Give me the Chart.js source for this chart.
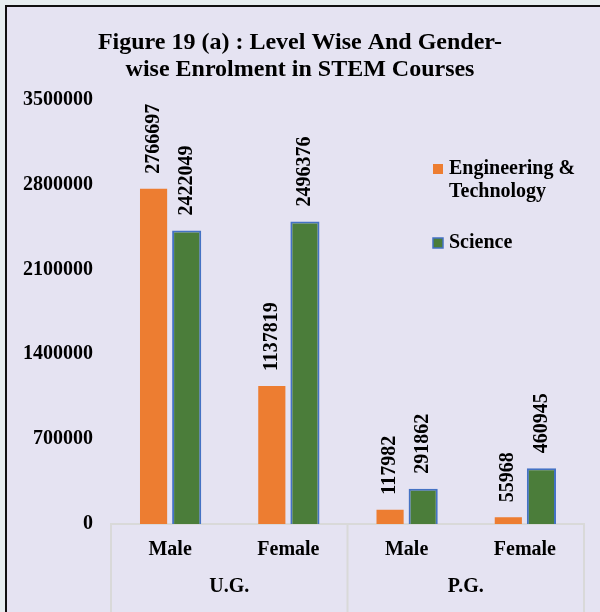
<!DOCTYPE html>
<html>
<head>
<meta charset="utf-8">
<script src="https://cdn.jsdelivr.net/npm/chart.js@4"></script>
<style>
  html, body { margin: 0; padding: 0; background: #E7EEF0; }
  #frame {
    position: absolute; left: 5px; top: 5px; width: 700px; height: 700px;
    border-left: 2px solid #111; border-top: 2px solid #111;
    background: #E5E3F2;
  }
  #wrap { position: absolute; left: 0; top: 0; width: 600px; height: 612px; }
</style>
</head>
<body>
<div id="frame"></div>
<div id="wrap"><canvas id="stemChart" width="600" height="612"></canvas></div>
<script>
// Data for the chart
const categories = ["Male", "Female", "Male", "Female"];
const groups = ["U.G.", "P.G."];
const engTech = [2766697, 1137819, 117982, 55968];
const science = [2422049, 2496376, 291862, 460945];
const yTicks = [0, 700000, 1400000, 2100000, 2800000, 3500000];

const FONT = "'Liberation Serif', 'Times New Roman', serif";
const ORANGE = "#ED7D31";
const GREEN = "#4B7D3A";
const BLUE = "#4472C4";
const AXIS_GREY = "#D9D9D9";

// rotated value labels above each bar
const valueLabels = {
  id: "valueLabels",
  afterDatasetsDraw(chart) {
    const ctx = chart.ctx;
    ctx.save();
    ctx.font = "bold 20px " + FONT;
    ctx.fillStyle = "#000";
    chart.data.datasets.forEach((ds, i) => {
      chart.getDatasetMeta(i).data.forEach((bar, j) => {
        ctx.save();
        ctx.translate(bar.x, bar.y - 15);
        ctx.rotate(-Math.PI / 2);
        ctx.textAlign = "left";
        ctx.textBaseline = "middle";
        ctx.fillText(String(ds.data[j]), 0, 0);
        ctx.restore();
      });
    });
    ctx.restore();
  }
};

// group separators under the x axis
const groupLines = {
  id: "groupLines",
  afterDraw(chart) {
    const x = chart.scales.x;
    const ctx = chart.ctx;
    const mid = (x.getPixelForValue(1) + x.getPixelForValue(2)) / 2;
    ctx.save();
    ctx.strokeStyle = AXIS_GREY;
    ctx.lineWidth = 2;
    [x.left, mid, x.right].forEach(px => {
      ctx.beginPath();
      ctx.moveTo(px, x.top);
      ctx.lineTo(px, chart.height);
      ctx.stroke();
    });
    ctx.restore();
  }
};

// legend on the right with a wrapped label
const sideLegend = {
  id: "sideLegend",
  afterDraw(chart) {
    const ctx = chart.ctx;
    const items = [
      { lines: ["Engineering &", "Technology"], fill: ORANGE, stroke: null, y: 169 },
      { lines: ["Science"], fill: GREEN, stroke: BLUE, y: 243 }
    ];
    ctx.save();
    ctx.font = "bold 20px " + FONT;
    ctx.textBaseline = "middle";
    ctx.textAlign = "left";
    items.forEach(it => {
      ctx.fillStyle = it.fill;
      ctx.fillRect(433, it.y - 5, 10, 10);
      if (it.stroke) {
        ctx.strokeStyle = it.stroke;
        ctx.lineWidth = 1.5;
        ctx.strokeRect(433, it.y - 5, 10, 10);
      }
      ctx.fillStyle = "#000";
      it.lines.forEach((t, k) => ctx.fillText(t, 449, it.y + k * 23));
    });
    ctx.restore();
  }
};

const config = {
  type: "bar",
  data: {
    labels: categories,
    datasets: [
      {
        label: "Engineering & Technology",
        data: engTech,
        backgroundColor: ORANGE,
        borderWidth: 0,
        categoryPercentage: 0.56,
        barPercentage: 0.82
      },
      {
        label: "Science",
        data: science,
        backgroundColor: GREEN,
        borderColor: BLUE,
        borderWidth: 2,
        categoryPercentage: 0.56,
        barPercentage: 0.88
      }
    ]
  },
  options: {
    responsive: false,
    animation: false,
    layout: { padding: 0 },
    plugins: {
      legend: { display: false },
      tooltip: { enabled: false },
      title: {
        display: true,
        text: ["Figure 19 (a) : Level Wise And Gender-", "wise Enrolment in STEM Courses"],
        color: "#000",
        font: { family: FONT, size: 24, weight: "bold", lineHeight: 1.1 },
        padding: { top: 30, bottom: 17 }
      }
    },
    scales: {
      x: {
        grid: { display: false, drawTicks: false },
        border: { display: true, color: AXIS_GREY, width: 2 },
        ticks: { color: "#000", font: { family: FONT, size: 20, weight: "bold" }, padding: 14 },
        afterFit(s) { s.height = 46; }
      },
      x2: {
        type: "category",
        labels: groups,
        position: "bottom",
        offset: true,
        grid: { display: false, drawTicks: false },
        border: { display: false },
        ticks: { color: "#000", font: { family: FONT, size: 20, weight: "bold" }, padding: 5 },
        afterFit(s) { s.height = 42; }
      },
      y: {
        min: 0,
        max: 3500000,
        afterBuildTicks(s) { s.ticks = yTicks.map(v => ({ value: v })); },
        grid: { display: false, drawTicks: false },
        border: { display: false },
        ticks: {
          color: "#000",
          padding: 18,
          font: { family: FONT, size: 20, weight: "bold" },
          callback: v => String(v)
        },
        afterFit(s) { s.width = 111; }
      },
      // empty right-hand spacer so the plot ends short of the edge
      yRight: {
        position: "right",
        grid: { display: false, drawTicks: false },
        border: { display: false },
        ticks: { display: false },
        afterFit(s) { s.width = 16; }
      }
    }
  },
  plugins: [valueLabels, groupLines, sideLegend]
};

window.addEventListener("DOMContentLoaded", () => {
  new Chart(document.getElementById("stemChart"), config);
});
</script>
</body>
</html>
